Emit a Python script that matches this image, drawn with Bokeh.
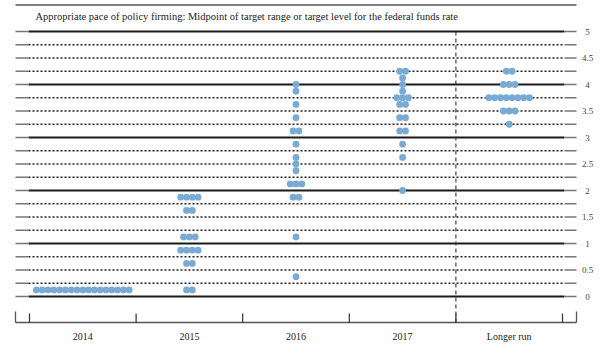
from bokeh.plotting import figure
from bokeh.embed import file_html
from bokeh.resources import INLINE
from bokeh.core.properties import value

# ---------------- data ----------------
categories = ["2014", "2015", "2016", "2017", "Longer run"]

levels_2014 = [0.125]
counts_2014 = [17]

levels_2015 = [0.125, 0.625, 0.875, 1.125, 1.625, 1.875]
counts_2015 = [2, 2, 4, 3, 2, 4]

levels_2016 = [0.375, 1.125, 1.875, 2.125, 2.375, 2.5, 2.625, 2.875, 3.125, 3.375, 3.625, 3.875, 4.0]
counts_2016 = [1, 1, 2, 3, 1, 1, 1, 1, 2, 1, 1, 1, 1]

levels_2017 = [2.0, 2.625, 2.875, 3.125, 3.375, 3.625, 3.75, 3.875, 4.0, 4.125, 4.25]
counts_2017 = [1, 1, 1, 2, 2, 2, 3, 1, 1, 1, 2]

levels_lr = [3.25, 3.5, 3.75, 4.0, 4.25]
counts_lr = [1, 3, 8, 3, 2]

y_ticks = [0, 0.5, 1, 1.5, 2, 2.5, 3, 3.5, 4, 4.5, 5]
y_tick_labels = ["0", "0.5", "1", "1.5", "2", "2.5", "3", "3.5", "4", "4.5", "5"]

title_text = "Appropriate pace of policy firming: Midpoint of target range or target level for the federal funds rate"

# ---------------- layout (pixel geometry) ----------------
PX_X = 106.6      # pixels per category
PX_Y = 53.0       # pixels per percentage point
X0_PAGE = 29.0    # page x of category boundary 0
Y0_PAGE = 296.0   # page y of value 0
FIG_LEFT, FIG_TOP = 0.0, 0.0
W, H = 600, 352


def xd(px):
    return (px - X0_PAGE) / PX_X


def yd(py):
    return (Y0_PAGE - py) / PX_Y


p = figure(width=W, height=H, output_backend="svg", toolbar_location=None,
           x_range=(xd(FIG_LEFT), xd(FIG_LEFT + W)),
           y_range=(yd(FIG_TOP + H), yd(FIG_TOP)),
           x_axis_location=None, y_axis_location=None,
           min_border=0, outline_line_color=None)
p.grid.visible = False
p.background_fill_color = "white"
p.border_fill_color = "white"

serif = value("Liberation Serif")

# horizontal reference lines every 0.25
n_steps = 20
vals = [i * 0.25 for i in range(n_steps + 1)]
solid = [v for v in vals if v == int(v)]
dotted = [v for v in vals if v != int(v)]
xl, xr = xd(28), xd(564)
gl, gr = xd(15), xd(576)

p.segment(x0=[xl] * len(dotted), x1=[xr] * len(dotted), y0=dotted, y1=dotted,
          line_color="#222222", line_width=1.5, line_dash="2 2")
p.segment(x0=[xl] * len(solid), x1=[xr] * len(solid), y0=solid, y1=solid,
          line_color="#1a1a1a", line_width=2.2)
# grey tick stubs at both ends
p.segment(x0=[gl] * len(vals), x1=[xl] * len(vals), y0=vals, y1=vals,
          line_color="#777777", line_width=1.5)
p.segment(x0=[xr] * len(vals), x1=[gr] * len(vals), y0=vals, y1=vals,
          line_color="#777777", line_width=1.5)

# top rule
p.segment(x0=[gl], x1=[gr], y0=[yd(4.5)], y1=[yd(4.5)], line_color="#555555", line_width=1.3)

# bottom axis
base_y = yd(322)
p.segment(x0=[gl], x1=[gr], y0=[base_y], y1=[base_y], line_color="#555555", line_width=1.3)
bounds = list(range(len(categories) + 1))
p.segment(x0=bounds, x1=bounds, y0=[yd(313)] * len(bounds), y1=[base_y] * len(bounds),
          line_color="#333333", line_width=1.2)
p.segment(x0=[gl, gr], x1=[gl, gr], y0=[yd(311)] * 2, y1=[base_y] * 2,
          line_color="#555555", line_width=1.3)

# dashed separator before "Longer run"
p.segment(x0=[4], x1=[4], y0=[5], y1=[base_y], line_color="#333333", line_width=1.1, line_dash="4 3")

# dots
spacing = 5.8 / PX_X
columns = [(levels_2014, counts_2014), (levels_2015, counts_2015), (levels_2016, counts_2016),
           (levels_2017, counts_2017), (levels_lr, counts_lr)]
dx, dy = [], []
for ci, (lv, cn) in enumerate(columns):
    center = ci + 0.5
    for level, n in zip(lv, cn):
        for k in range(n):
            dx.append(center + (k - (n - 1) / 2) * spacing)
            dy.append(level)
p.scatter(dx, dy, size=6.8, fill_color="#78AAD4", line_color=None)

# title
p.text(x=[xd(35)], y=[yd(16)], text=[title_text], text_font=serif, text_font_size="10.5px",
       text_baseline="middle", text_align="left", text_color="#222222")

# right tick labels
p.text(x=[xd(587)] * len(y_ticks), y=y_ticks, text=y_tick_labels, text_font=serif,
       text_font_size="9px", text_baseline="middle", text_align="center", text_color="#444444")

# category labels
p.text(x=[i + 0.5 for i in range(len(categories))], y=[yd(336)] * len(categories), text=categories,
       text_font=serif, text_font_size="10px", text_baseline="middle", text_align="center",
       text_color="#222222")

open("out.html", "w").write(file_html(p, INLINE))
